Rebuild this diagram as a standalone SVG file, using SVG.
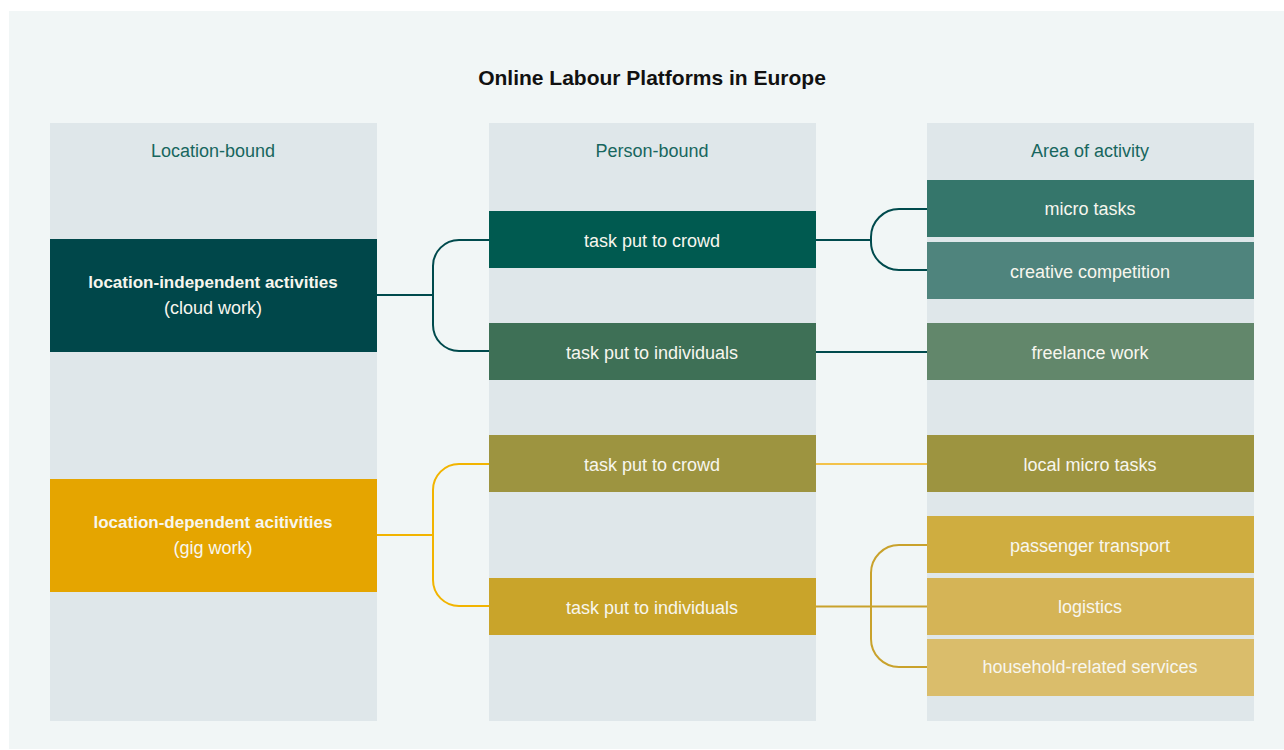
<svg xmlns="http://www.w3.org/2000/svg" width="1284" height="750" viewBox="0 0 1284 750">
<style>
.col{fill:#dfe7ea}
.hd{font-family:"Liberation Sans",Arial,sans-serif;font-size:18px;fill:#17665e;text-anchor:middle}
.t{font-family:"Liberation Sans",Arial,sans-serif;font-size:18px;fill:#f7f6ee;text-anchor:middle}
.b{font-weight:bold;font-size:17px}
.c{fill:none;stroke-width:2}
.dk{stroke:#004a4d}
.gl{stroke:#f2b400}
.gl2{stroke:#f3c24a}
.gd{stroke:#c9a22c}
</style>
<rect x="0" y="0" width="1284" height="750" fill="#ffffff"/>
<rect x="9" y="11" width="1275" height="738" fill="#f1f6f6"/>
<text x="652" y="85" font-family="Liberation Sans,Arial,sans-serif" font-size="21" font-weight="bold" fill="#111111" text-anchor="middle">Online Labour Platforms in Europe</text>
<g id="columns">
<rect class="col" x="50" y="123" width="327" height="598"/>
<rect class="col" x="489" y="123" width="327" height="598"/>
<rect class="col" x="927" y="123" width="327" height="598"/>
<text class="hd" x="213" y="157">Location-bound</text>
<text class="hd" x="652" y="157">Person-bound</text>
<text class="hd" x="1090" y="157">Area of activity</text>
</g>
<g id="connectors">
<path class="c dk" d="M377,295 H433"/>
<path class="c dk" d="M489,240 H459 A26,26 0 0 0 433,266 V325 A26,26 0 0 0 459,351 H489"/>
<path class="c dk" d="M816,240 H871"/>
<path class="c dk" d="M927,209 H899 A28,28 0 0 0 871,237 V242 A28,28 0 0 0 899,270 H927"/>
<path class="c dk" d="M816,352 H927"/>
<path class="c gl" d="M377,535 H433"/>
<path class="c gl" d="M489,464 H459 A26,26 0 0 0 433,490 V580 A26,26 0 0 0 459,606 H489"/>
<path class="c gl2" d="M816,464 H927"/>
<path class="c gd" d="M816,606.5 H927"/>
<path class="c gd" d="M927,545 H899 A28,28 0 0 0 871,573 V639 A28,28 0 0 0 899,667 H927"/>
</g>
<g id="loc-independent">
<rect x="50" y="239" width="327" height="113" fill="#00474a"/>
<text class="t b" x="213" y="288">location-independent activities</text>
<text class="t" x="213" y="314">(cloud work)</text>
</g>
<g id="loc-dependent">
<rect x="50" y="479" width="327" height="113" fill="#e5a500"/>
<text class="t b" x="213" y="528">location-dependent acitivities</text>
<text class="t" x="213" y="554">(gig work)</text>
</g>
<g id="crowd-cloud">
<rect x="489" y="211" width="327" height="57" fill="#005a50"/>
<text class="t" x="652" y="247">task put to crowd</text>
</g>
<g id="individuals-cloud">
<rect x="489" y="323" width="327" height="57" fill="#3e7056"/>
<text class="t" x="652" y="359">task put to individuals</text>
</g>
<g id="crowd-gig">
<rect x="489" y="435" width="327" height="57" fill="#9d9440"/>
<text class="t" x="652" y="471">task put to crowd</text>
</g>
<g id="individuals-gig">
<rect x="489" y="578" width="327" height="57" fill="#c9a42a"/>
<text class="t" x="652" y="614">task put to individuals</text>
</g>
<g id="micro-tasks">
<rect x="927" y="180" width="327" height="57" fill="#35766b"/>
<text class="t" x="1090" y="215">micro tasks</text>
</g>
<g id="creative-competition">
<rect x="927" y="242" width="327" height="57" fill="#4f847d"/>
<text class="t" x="1090" y="278">creative competition</text>
</g>
<g id="freelance-work">
<rect x="927" y="323" width="327" height="57" fill="#62876b"/>
<text class="t" x="1090" y="359">freelance work</text>
</g>
<g id="local-micro-tasks">
<rect x="927" y="435" width="327" height="57" fill="#9d9440"/>
<text class="t" x="1090" y="471">local micro tasks</text>
</g>
<g id="passenger-transport">
<rect x="927" y="516" width="327" height="57" fill="#cfad40"/>
<text class="t" x="1090" y="552">passenger transport</text>
</g>
<g id="logistics">
<rect x="927" y="578" width="327" height="57" fill="#d5b456"/>
<text class="t" x="1090" y="613">logistics</text>
</g>
<g id="household-services">
<rect x="927" y="639" width="327" height="57" fill="#dabd6b"/>
<text class="t" x="1090" y="673">household-related services</text>
</g>
</svg>
